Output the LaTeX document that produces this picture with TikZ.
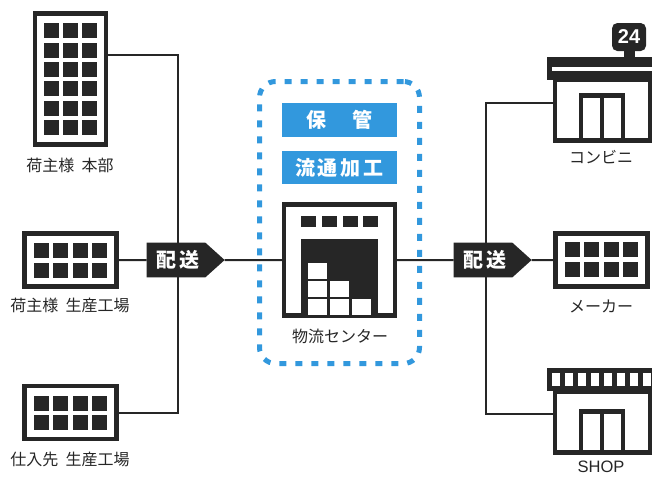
\documentclass[tikz,border=0pt]{standalone}
\usepackage{fontspec}
\usetikzlibrary{shapes.symbols,backgrounds}
\setmainfont{Noto Sans CJK JP}
\newfontfamily\latinfont{Liberation Sans}
\definecolor{iconblack}{RGB}{38,38,38}
\definecolor{zoneblue}{RGB}{50,152,221}
\tikzset{every picture/.style={line width=0.75pt}}
\tikzset{
  iconbox/.style={draw=iconblack,line width=3.4pt,fill=white,inner sep=0pt,outer sep=0pt},
  iconpane/.style={fill=iconblack},
  whitepane/.style={fill=white},
  linkline/.style={draw=iconblack,line width=1.5pt},
  caption/.style={inner sep=0pt,text=iconblack,font=\fontsize{12}{14}\selectfont},
  haisoutag/.style={shape=signal,signal to=east,signal pointer angle=84,fill=iconblack,text=white,
    inner sep=0pt,outer sep=0pt,minimum width=58.5pt,minimum height=26pt,font=\bfseries\fontsize{15}{17}\selectfont},
  bluetag/.style={fill=zoneblue,text=white,inner sep=0pt,outer sep=0pt,minimum width=86.5pt,minimum height=25pt,
    font=\bfseries\fontsize{15}{17}\selectfont},
}
\begin{document}
\begin{tikzpicture}[x=0.75pt,y=0.75pt,yscale=-1,xscale=1]
\path[use as bounding box] (0,0) rectangle (652,476);

%Shape: Office
\node (honbu) [iconbox,minimum width=53pt,minimum height=98.5pt] at (70.5,79) {};
\foreach \px in {44,63,82}
  \foreach \py in {23,43,62,81,101,120}
    \fill[iconpane] (\px,\py) rectangle ++(15,15);
%Shape: Factories
\node (kojo) [iconbox,minimum width=69pt,minimum height=40pt] at (70.5,260) {};
\node (shiire) [iconbox,minimum width=69pt,minimum height=40pt] at (70.5,412.5) {};
\node (maker) [iconbox,minimum width=69pt,minimum height=40pt] at (601.5,260) {};
\foreach \px in {34,53,73,92} {
  \foreach \py in {243,263}
    \fill[iconpane] (\px,\py) rectangle ++(15,15);
  \foreach \py in {396,415}
    \fill[iconpane] (\px,\py) rectangle ++(15,15);
  \foreach \py in {242,262}
    \fill[iconpane] (\px+531,\py) rectangle ++(15,15);
}

%Shape: Center
\node (souko) [iconbox,minimum width=83pt,minimum height=83.5pt] at (339.5,260) {};
\foreach \px in {301,322,343,363}
  \fill[iconpane] (\px,216) rectangle ++(15,11);
\fill[iconpane] (301,239) rectangle (378,318);
\foreach \px/\py in {308/299,330/299,352/299,308/281,330/281,308/263}
  \fill[whitepane] (\px,\py) rectangle ++(19,16);
\node (hokan) [bluetag] at (339.5,120) {保\hspace{1.3em}管};
\node (kako) [bluetag] at (339.5,167.5) {流\hspace{.15em}通\hspace{.15em}加\hspace{.15em}工};

%Shape: Conveni
\node (konbini) [iconbox,minimum width=71.5pt,minimum height=46pt] at (602.5,110) {};
\fill[iconpane] (547,57) rectangle (652,80);
\fill[whitepane] (552,67) rectangle (652,70.5);
\fill[iconpane] (624,48) rectangle (635,57);
\node (sign) [fill=iconblack,text=white,rounded corners=4pt,inner sep=0pt,minimum width=25.5pt,minimum height=21pt,
  font=\latinfont\bfseries\fontsize{15}{17}\selectfont] at (629,37) {24};
\draw[iconbox,fill=none] (581,139) -- (581,95.25) -- (623,95.25) -- (623,139);
\draw[iconbox,fill=none] (602,95) -- (602,139);

%Shape: Shop
\node (shop) [iconbox,minimum width=71.5pt,minimum height=46pt] at (602.5,422) {};
\fill[iconpane] (547,368) rectangle (652,391);
\foreach \px in {552,565,578,591,604,617,630,643}
  \fill[whitepane] (\px,373) rectangle ++(8,13);
\draw[iconbox,fill=none] (581,451) -- (581,411.25) -- (623,411.25) -- (623,451);
\draw[iconbox,fill=none] (602,411) -- (602,451);

%Delivery tags
\node (haisouL) [haisoutag] at (176,260) {\hspace{3pt}配\hspace{.12em}送};
\node (haisouR) [haisoutag] at (483,260) {\hspace{3pt}配\hspace{.12em}送};
\coordinate (hubL) at (178,260);
\coordinate (hubR) at (486,260);

%Straight Lines
\begin{scope}[on background layer]
\draw[linkline] ([yshift=-18pt]honbu.east) -| (hubL);
\draw[linkline] (shiire.east) -| (hubL);
\draw[linkline] (kojo.east) -- (haisouL);
\draw[linkline] (haisouL) -- (souko.west);
\draw[linkline] (souko.east) -- (haisouR);
\draw[linkline] (haisouR) -- (maker.west);
\draw[linkline] ([yshift=-5.25pt]konbini.west) -| (hubR);
\draw[linkline] ([yshift=-6pt]shop.west) -| (hubR);
\end{scope}

%Dotted zone
\node (zone) [draw=zoneblue,line width=3.75pt,dash pattern=on 5.25pt off 6.75pt,rounded corners=12pt,
  minimum width=120pt,minimum height=211.5pt,inner sep=0pt] at (339.5,222.5) {};

% Text Node
\node (capHonbu) [caption] at (70,165) {荷主様\hspace{.45em}本部};
\node (capKojo) [caption] at (70,305) {荷主様\hspace{.45em}生産工場};
\node (capShiire) [caption] at (70,459) {仕入先\hspace{.45em}生産工場};
\node (capSouko) [caption] at (340,336) {物流センター};
\node (capKonbini) [caption] at (601,157) {コンビニ};
\node (capMaker) [caption] at (601,306) {メーカー};
\node (capShop) [caption,font=\latinfont\fontsize{12.4}{14}\selectfont] at (601,467) {SHOP};
\end{tikzpicture}
\end{document}
